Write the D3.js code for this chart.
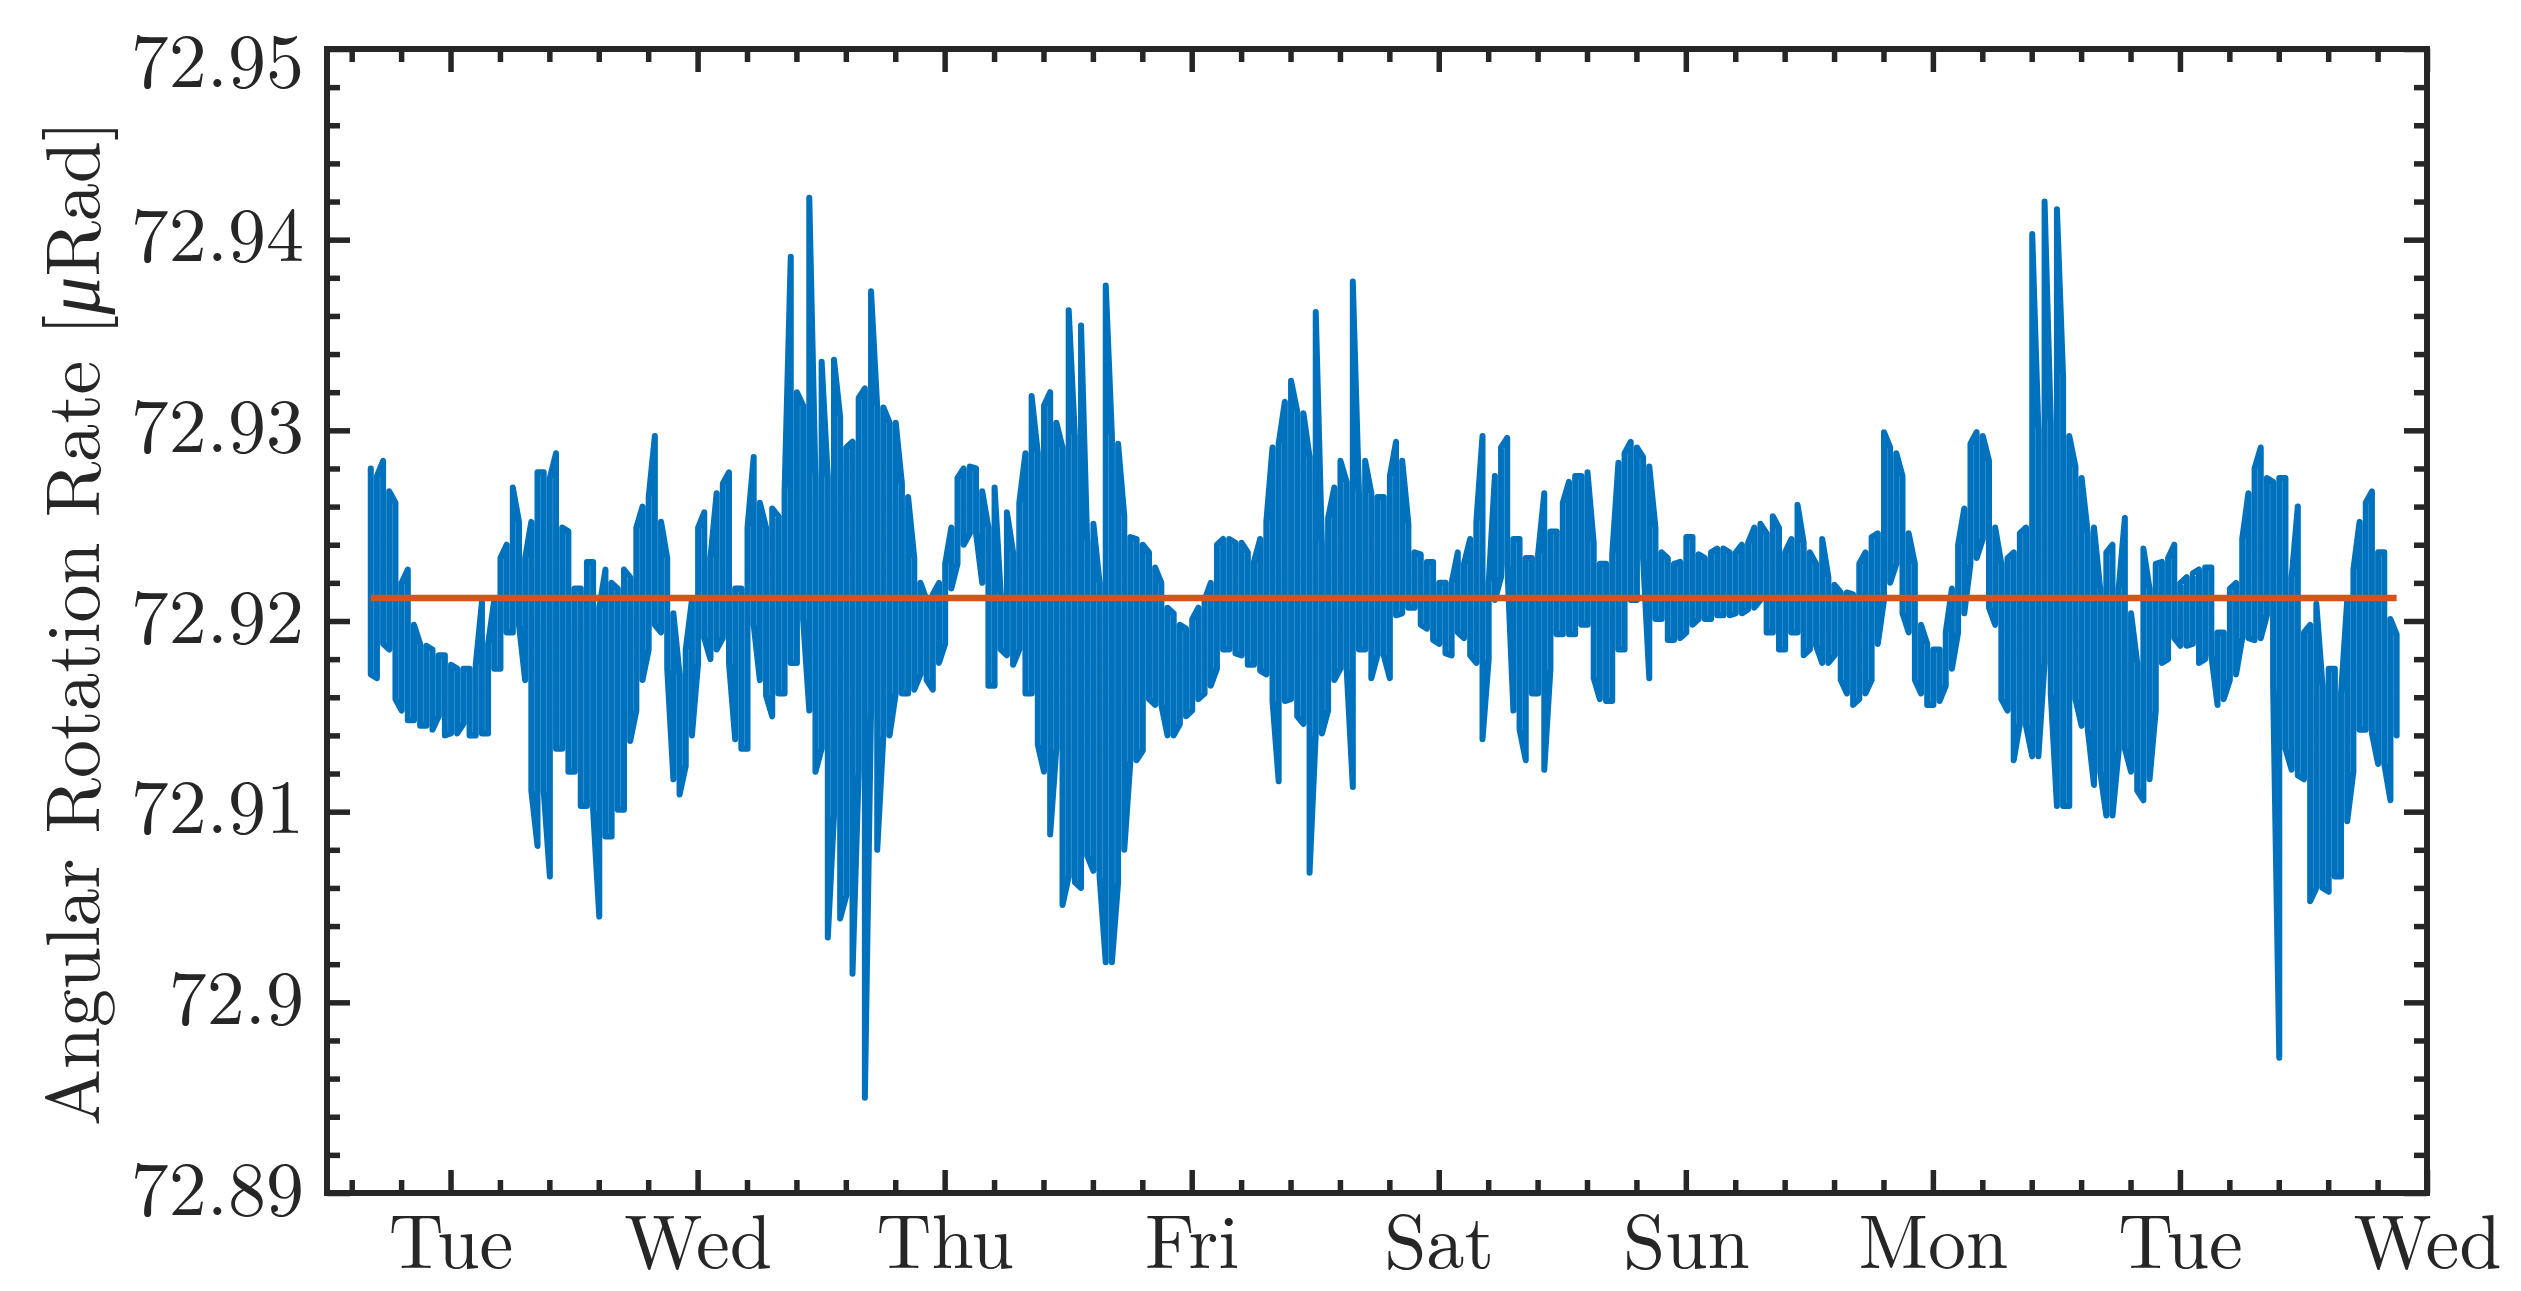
<!DOCTYPE html>
<html lang="en">
<head>
<meta charset="UTF-8">
<title>Angular Rotation Rate</title>
<script src="https://d3js.org/d3.v7.min.js"></script>
<style>
  body { margin: 0; background: #fff; }
  svg { display: block; }
  .txt { fill: #262626; font-size: 76px; }
</style>
</head>
<body>
<svg id="chart" width="2521" height="1291"></svg>
<script>
// readings every 36 minutes from Mon 16:15; each reading keeps the
// highest and lowest rate seen in its 36 minute slot
const startTime = Date.UTC(2019, 2, 4, 16, 15);
const sampleMinutes = 36;

const rateHigh = [
  72.9280, 72.9276, 72.9284, 72.9268, 72.9262, 72.9220, 72.9227, 72.9198, 72.9188, 72.9187,
  72.9185, 72.9182, 72.9182, 72.9177, 72.9175, 72.9175, 72.9175, 72.9177, 72.9210, 72.9188,
  72.9211, 72.9233, 72.9240, 72.9270, 72.9252, 72.9233, 72.9252, 72.9278, 72.9278, 72.9275,
  72.9288, 72.9249, 72.9247, 72.9217, 72.9217, 72.9231, 72.9231, 72.9207, 72.9227, 72.9220,
  72.9217, 72.9227, 72.9223, 72.9249, 72.9260, 72.9265, 72.9297, 72.9252, 72.9233, 72.9204,
  72.9172, 72.9185, 72.9211, 72.9249,
  72.9257, 72.9233, 72.9267, 72.9272, 72.9278, 72.9217, 72.9217, 72.9249, 72.9286, 72.9262,
  72.9249, 72.9259, 72.9255, 72.9268, 72.9391, 72.9320, 72.9313, 72.9422, 72.9275, 72.9336,
  72.9275, 72.9337, 72.9307, 72.9291, 72.9294, 72.9317, 72.9322, 72.9373, 72.9312, 72.9312,
  72.9304, 72.9304, 72.9272, 72.9265, 72.9233, 72.9220, 72.9211, 72.9214, 72.9220, 72.9230,
  72.9249, 72.9275, 72.9280, 72.9281, 72.9280, 72.9268, 72.9249, 72.9270, 72.9214, 72.9257,
  72.9236, 72.9262, 72.9288, 72.9318, 72.9288,
  72.9313, 72.9320, 72.9304, 72.9291, 72.9363, 72.9297, 72.9355, 72.9241, 72.9251, 72.9220,
  72.9376, 72.9297, 72.9293, 72.9255, 72.9244, 72.9243, 72.9240, 72.9236, 72.9228, 72.9220,
  72.9207, 72.9204, 72.9198, 72.9196, 72.9201, 72.9207, 72.9211, 72.9220, 72.9240, 72.9243,
  72.9243, 72.9241, 72.9241, 72.9236, 72.9231, 72.9243, 72.9252, 72.9291, 72.9293, 72.9315,
  72.9326, 72.9310, 72.9309, 72.9286, 72.9362, 72.9240, 72.9254, 72.9270, 72.9284, 72.9273,
  72.9378, 72.9267, 72.9284, 72.9267, 72.9265,
  72.9265, 72.9276, 72.9294, 72.9284, 72.9251, 72.9236, 72.9235, 72.9231, 72.9231, 72.9220,
  72.9220, 72.9220, 72.9236, 72.9230, 72.9243, 72.9252, 72.9297, 72.9220, 72.9276, 72.9291,
  72.9296, 72.9243, 72.9243, 72.9233, 72.9233, 72.9235, 72.9267, 72.9247, 72.9247, 72.9262,
  72.9273, 72.9276, 72.9276, 72.9278, 72.9241, 72.9230, 72.9230, 72.9235, 72.9283, 72.9288,
  72.9294, 72.9291, 72.9286, 72.9281, 72.9249, 72.9236, 72.9233, 72.9230, 72.9231, 72.9244,
  72.9244, 72.9235, 72.9233, 72.9236, 72.9238,
  72.9238, 72.9236, 72.9236, 72.9240, 72.9241, 72.9249, 72.9251, 72.9246, 72.9255, 72.9249,
  72.9236, 72.9243, 72.9261, 72.9241, 72.9236, 72.9230, 72.9243, 72.9223, 72.9219, 72.9215,
  72.9215, 72.9214, 72.9230, 72.9236, 72.9244, 72.9246, 72.9299, 72.9291, 72.9288, 72.9276,
  72.9246, 72.9230, 72.9198, 72.9188, 72.9185, 72.9185, 72.9194, 72.9217, 72.9240, 72.9259,
  72.9293, 72.9299, 72.9297, 72.9284, 72.9249, 72.9230, 72.9233, 72.9236, 72.9246, 72.9249,
  72.9403, 72.9300, 72.9420, 72.9304, 72.9416,
  72.9328, 72.9297, 72.9281, 72.9275, 72.9246, 72.9249, 72.9217, 72.9236, 72.9240, 72.9217,
  72.9254, 72.9204, 72.9178, 72.9238, 72.9217, 72.9230, 72.9231, 72.9233, 72.9240, 72.9220,
  72.9223, 72.9225, 72.9227, 72.9228, 72.9228, 72.9194, 72.9194, 72.9217, 72.9220, 72.9243,
  72.9267, 72.9280, 72.9291, 72.9275, 72.9273, 72.9275, 72.9275, 72.9223, 72.9260, 72.9194,
  72.9198, 72.9209, 72.9166, 72.9175, 72.9175, 72.9162, 72.9211, 72.9227, 72.9252, 72.9262,
  72.9268, 72.9236, 72.9236, 72.9201, 72.9193
];

const rateLow = [
  72.9172, 72.9170, 72.9188, 72.9185, 72.9159, 72.9153, 72.9148, 72.9148, 72.9145, 72.9145,
  72.9143, 72.9150, 72.9140, 72.9141, 72.9141, 72.9146, 72.9140, 72.9140, 72.9141, 72.9141,
  72.9175, 72.9175, 72.9194, 72.9194, 72.9198, 72.9169, 72.9111, 72.9082, 72.9111, 72.9066,
  72.9133, 72.9133, 72.9121, 72.9121, 72.9103, 72.9103, 72.9101, 72.9045, 72.9087, 72.9087,
  72.9101, 72.9101, 72.9137, 72.9153, 72.9169, 72.9185, 72.9198, 72.9194, 72.9175, 72.9117,
  72.9109, 72.9124, 72.9140, 72.9178,
  72.9191, 72.9180, 72.9185, 72.9191, 72.9178, 72.9138, 72.9133, 72.9133, 72.9198, 72.9169,
  72.9161, 72.9150, 72.9162, 72.9162, 72.9178, 72.9178, 72.9201, 72.9153, 72.9121, 72.9133,
  72.9034, 72.9098, 72.9044, 72.9056, 72.9015, 72.9121, 72.8950, 72.9153, 72.9080, 72.9140,
  72.9140, 72.9162, 72.9162, 72.9162, 72.9164, 72.9172, 72.9169, 72.9164, 72.9178, 72.9188,
  72.9217, 72.9230, 72.9240, 72.9246, 72.9246, 72.9220, 72.9166, 72.9166, 72.9185, 72.9182,
  72.9177, 72.9185, 72.9162, 72.9162, 72.9135,
  72.9121, 72.9088, 72.9133, 72.9051, 72.9066, 72.9063, 72.9060, 72.9077, 72.9069, 72.9066,
  72.9021, 72.9021, 72.9063, 72.9080, 72.9127, 72.9127, 72.9132, 72.9159, 72.9156, 72.9156,
  72.9140, 72.9140, 72.9146, 72.9150, 72.9153, 72.9159, 72.9162, 72.9166, 72.9175, 72.9185,
  72.9185, 72.9183, 72.9182, 72.9177, 72.9177, 72.9174, 72.9172, 72.9158, 72.9116, 72.9158,
  72.9159, 72.9150, 72.9146, 72.9068, 72.9141, 72.9141, 72.9153, 72.9169, 72.9175, 72.9175,
  72.9113, 72.9185, 72.9185, 72.9170, 72.9182,
  72.9182, 72.9170, 72.9203, 72.9204, 72.9207, 72.9207, 72.9198, 72.9196, 72.9190, 72.9188,
  72.9183, 72.9182, 72.9194, 72.9191, 72.9182, 72.9178, 72.9138, 72.9180, 72.9211, 72.9223,
  72.9230, 72.9153, 72.9143, 72.9127, 72.9162, 72.9162, 72.9122, 72.9175, 72.9193, 72.9193,
  72.9193, 72.9193, 72.9198, 72.9198, 72.9170, 72.9159, 72.9158, 72.9158, 72.9185, 72.9185,
  72.9211, 72.9211, 72.9233, 72.9170, 72.9201, 72.9201, 72.9190, 72.9190, 72.9191, 72.9194,
  72.9198, 72.9201, 72.9201, 72.9201, 72.9203,
  72.9203, 72.9203, 72.9204, 72.9204, 72.9206, 72.9207, 72.9211, 72.9194, 72.9194, 72.9185,
  72.9185, 72.9194, 72.9194, 72.9182, 72.9185, 72.9187, 72.9178, 72.9178, 72.9182, 72.9169,
  72.9162, 72.9156, 72.9159, 72.9162, 72.9169, 72.9188, 72.9211, 72.9220, 72.9230, 72.9204,
  72.9194, 72.9169, 72.9162, 72.9156, 72.9156, 72.9158, 72.9166, 72.9175, 72.9194, 72.9204,
  72.9230, 72.9233, 72.9243, 72.9207, 72.9198, 72.9159, 72.9153, 72.9127, 72.9146, 72.9145,
  72.9129, 72.9129, 72.9178, 72.9162, 72.9103,
  72.9103, 72.9103, 72.9159, 72.9145, 72.9143, 72.9114, 72.9121, 72.9098, 72.9098, 72.9132,
  72.9133, 72.9121, 72.9111, 72.9106, 72.9117, 72.9153, 72.9178, 72.9180, 72.9191, 72.9187,
  72.9187, 72.9188, 72.9178, 72.9180, 72.9182, 72.9156, 72.9159, 72.9169, 72.9172, 72.9191,
  72.9191, 72.9190, 72.9191, 72.9203, 72.9166, 72.8971, 72.9133, 72.9122, 72.9119, 72.9117,
  72.9053, 72.9060, 72.9060, 72.9058, 72.9066, 72.9066, 72.9095, 72.9121, 72.9143, 72.9143,
  72.9141, 72.9125, 72.9125, 72.9106, 72.9140
];

const meanRate = 72.9212;

const yTicks = [72.89, 72.9, 72.91, 72.92, 72.93, 72.94, 72.95];
const dayTicks = [5, 6, 7, 8, 9, 10, 11, 12, 13].map(d => new Date(Date.UTC(2019, 2, d)));
const dayLabels = ["Tue", "Wed", "Thu", "Fri", "Sat", "Sun", "Mon", "Tue", "Wed"];

// first serif face that is really installed
function pickFont(list) {
  const c = document.createElement("canvas").getContext("2d");
  const probe = "72.95 Wed Angular Rotation";
  for (const f of list) {
    let found = false;
    for (const base of ["monospace", "sans-serif"]) {
      c.font = `76px ${base}`;
      const w0 = c.measureText(probe).width;
      c.font = `76px "${f}", ${base}`;
      if (c.measureText(probe).width !== w0) found = true;
    }
    if (found) return `"${f}", serif`;
  }
  return "serif";
}
const fontFamily = pickFont(["CMU Serif", "Latin Modern Roman", "Liberation Serif", "DejaVu Serif",
  "Tinos", "Times New Roman", "Noto Serif", "FreeSerif", "Nimbus Roman", "TeX Gyre Termes"]);

const margin = { top: 49, right: 94, bottom: 98, left: 327 };
const width = 2521 - margin.left - margin.right;
const height = 1291 - margin.top - margin.bottom;
const ink = "#262626";

const svg = d3.select("#chart");
const g = svg.append("g").attr("transform", `translate(${margin.left},${margin.top})`);

const x = d3.scaleUtc()
  .domain([new Date(Date.UTC(2019, 2, 4, 12)), new Date(Date.UTC(2019, 2, 13))])
  .range([0, width]);
const y = d3.scaleLinear().domain([72.89, 72.95]).range([height, 0]);

// walk each slot top-to-bottom / bottom-to-top so the trace looks like the dense original
const series = [];
rateHigh.forEach((hi, i) => {
  const t = new Date(startTime + i * sampleMinutes * 60000);
  const lo = rateLow[i];
  if (i % 2 === 0) series.push({ t, v: hi }, { t, v: lo });
  else series.push({ t, v: lo }, { t, v: hi });
});
const line = d3.line().x(d => x(d.t)).y(d => y(d.v));

g.append("path")
  .datum(series)
  .attr("fill", "none")
  .attr("stroke", "#0072BD")
  .attr("stroke-width", 6)
  .attr("stroke-linejoin", "round")
  .attr("stroke-linecap", "round")
  .attr("d", line);

g.append("path")
  .datum([{ t: series[0].t, v: meanRate }, { t: series[series.length - 1].t, v: meanRate }])
  .attr("fill", "none")
  .attr("stroke", "#D95319")
  .attr("stroke-width", 6.5)
  .attr("d", line);

// minor ticks: 5 per day, 5 per 0.01
const xMinor = d3.range(-2, 41).filter(k => k % 5 !== 0)
  .map(k => new Date(Date.UTC(2019, 2, 5) + k * 288 * 60000));
const yMinor = d3.range(0, 31).filter(k => k % 5 !== 0).map(k => 72.89 + k * 0.002);

function tidy(sel) {
  sel.attr("color", ink).attr("font-size", null).attr("font-family", null);
  sel.select(".domain").remove();
  sel.selectAll("line").attr("stroke-width", 5.5);
}

const majorLen = -23, minorLen = -13;

// bottom
g.append("g").attr("transform", `translate(0,${height})`)
  .call(d3.axisBottom(x).tickValues(xMinor).tickSizeInner(minorLen).tickSizeOuter(0).tickFormat(""))
  .call(tidy);
g.append("g").attr("transform", `translate(0,${height})`)
  .call(d3.axisBottom(x).tickValues(dayTicks).tickSizeInner(majorLen).tickSizeOuter(0)
    .tickFormat((d, i) => dayLabels[i]))
  .call(tidy)
  .call(a => a.selectAll("text").attr("class", "txt").attr("y", 85).attr("dy", null));
// top
g.append("g")
  .call(d3.axisTop(x).tickValues(xMinor).tickSizeInner(minorLen).tickSizeOuter(0).tickFormat(""))
  .call(tidy);
g.append("g")
  .call(d3.axisTop(x).tickValues(dayTicks).tickSizeInner(majorLen).tickSizeOuter(0).tickFormat(""))
  .call(tidy);
// left
g.append("g")
  .call(d3.axisLeft(y).tickValues(yMinor).tickSizeInner(minorLen).tickSizeOuter(0).tickFormat(""))
  .call(tidy);
g.append("g")
  .call(d3.axisLeft(y).tickValues(yTicks).tickSizeInner(majorLen).tickSizeOuter(0).tickPadding(23)
    .tickFormat(d => String(d)))
  .call(tidy)
  .call(a => a.selectAll("text").attr("class", "txt").attr("y", 21).attr("dy", null));
// right
g.append("g").attr("transform", `translate(${width},0)`)
  .call(d3.axisRight(y).tickValues(yMinor).tickSizeInner(minorLen).tickSizeOuter(0).tickFormat(""))
  .call(tidy);
g.append("g").attr("transform", `translate(${width},0)`)
  .call(d3.axisRight(y).tickValues(yTicks).tickSizeInner(majorLen).tickSizeOuter(0).tickFormat(""))
  .call(tidy);

// frame
g.append("rect")
  .attr("width", width).attr("height", height)
  .attr("fill", "none").attr("stroke", ink).attr("stroke-width", 6);

// y title
const title = svg.append("text")
  .attr("class", "txt")
  .attr("transform", `translate(99,${margin.top + height / 2 + 2}) rotate(-90)`)
  .attr("text-anchor", "middle")
  .attr("textLength", 1006)
  .attr("lengthAdjust", "spacing");
title.append("tspan").text("Angular Rotation Rate [");
title.append("tspan").attr("font-style", "italic").text("μ");
title.append("tspan").text("Rad]");

svg.selectAll(".txt").style("font-family", fontFamily);

// nudge tick labels whose font box pokes past the picture edge
const frame = svg.node().getBoundingClientRect();
g.selectAll("text.txt").each(function () {
  const r = this.getBoundingClientRect();
  const el = d3.select(this);
  const yNow = +el.attr("y");
  if (r.bottom > frame.bottom - 1) el.attr("y", yNow - (r.bottom - frame.bottom + 1));
  else if (r.top < frame.top + 1) el.attr("y", yNow + (frame.top + 1 - r.top));
});
</script>
</body>
</html>
